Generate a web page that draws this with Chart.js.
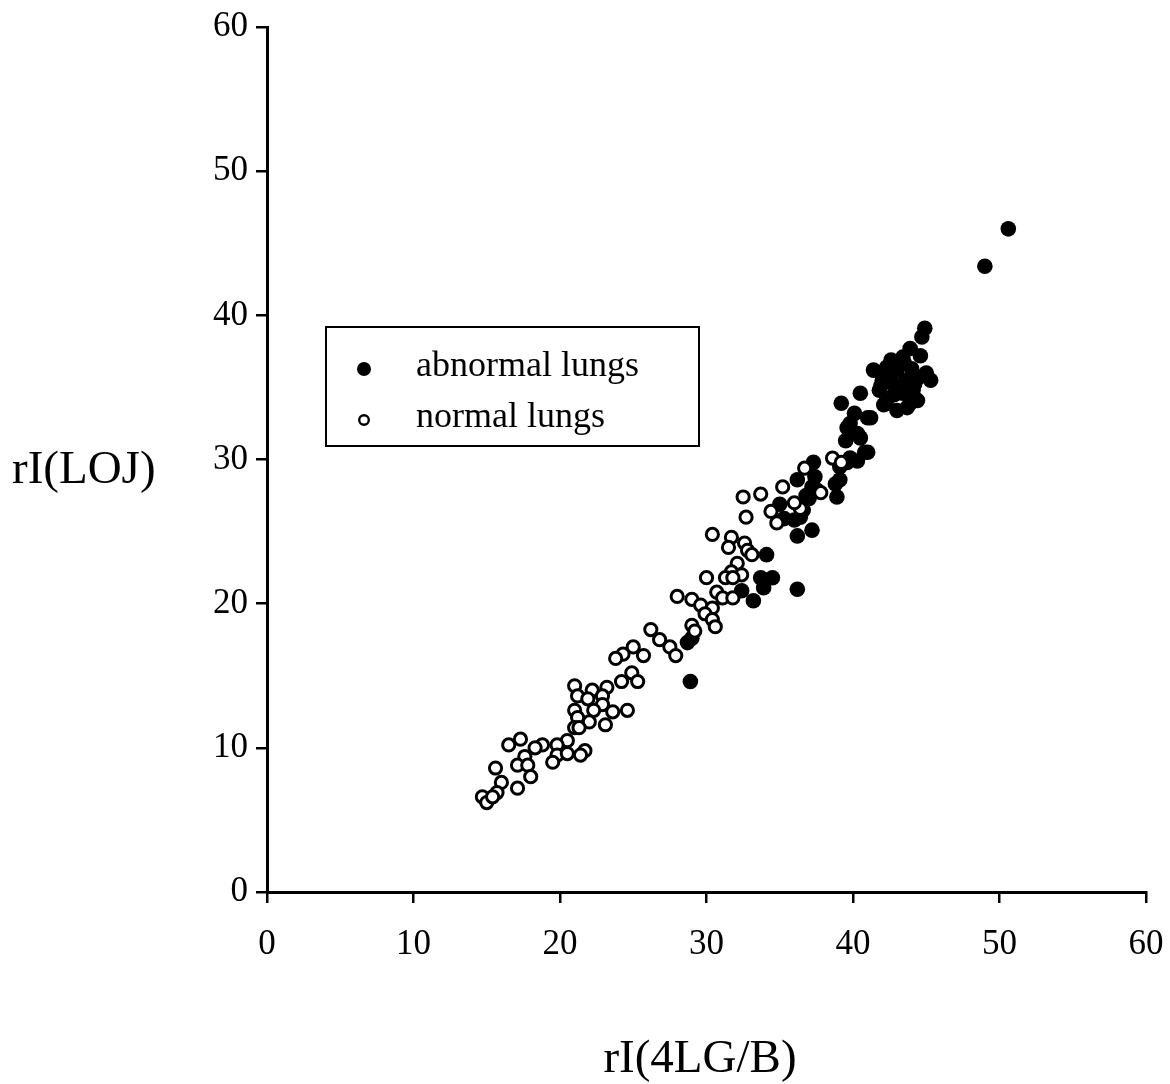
<!DOCTYPE html>
<html>
<head>
<meta charset="utf-8">
<title>rI(LOJ) vs rI(4LG/B)</title>
<script src="https://cdn.jsdelivr.net/npm/chart.js@4.4.1/dist/chart.umd.min.js"></script>
<style>
    html, body { margin: 0; padding: 0; background: #fff; }
    #wrap { position: relative; width: 1170px; height: 1084px; }
</style>
</head>
<body>
<div id="wrap"><canvas id="scatterChart" width="1170" height="1084"></canvas></div>
<script>
// Axis ticks
const xTicks = [0, 10, 20, 30, 40, 50, 60];
const yTicks = [0, 10, 20, 30, 40, 50, 60];

// Series labels
const seriesLabels = ['abnormal lungs', 'normal lungs'];

// abnormal lungs: [rI(4LG/B), rI(LOJ)]
const abnormalX = [
    50.6, 49.0,
    44.9, 44.7, 43.9, 44.6, 43.4, 41.4, 42.3, 43.0, 45.0, 45.3, 42.0, 42.7, 43.6, 44.1,
    42.3, 43.0, 43.9, 43.4, 41.8, 44.4, 42.5, 43.2, 42.0, 44.0, 42.8, 43.7, 42.1, 44.5,
    42.6, 43.5, 41.9, 44.2,
    40.5, 39.2, 41.0, 40.1, 39.8, 40.3, 39.6, 39.5, 40.5, 41.2, 41.0, 40.8, 39.8, 40.3,
    39.6, 39.1, 39.1, 38.9, 38.8, 37.4, 37.5, 37.3, 36.2, 37.2, 37.0, 36.4, 36.6, 36.2,
    37.2, 36.8, 35.0, 35.3, 36.0,
    34.1, 33.7, 34.5, 33.9, 36.2, 33.2, 32.4, 28.7, 29.0, 28.9
];
const abnormalY = [
    46.0, 43.4,
    39.1, 38.5, 37.7, 37.2, 37.1, 36.2, 36.4, 36.2, 36.0, 35.5, 35.5, 35.3, 35.5, 34.8,
    34.1, 33.4, 33.9, 34.6, 34.8, 34.1, 35.8, 35.0, 36.0, 36.3, 34.5, 33.6, 33.8, 35.7,
    36.9, 36.7, 35.1, 35.2,
    34.6, 33.9, 32.9, 33.2, 32.5, 31.8, 32.2, 31.3, 31.5, 32.9, 30.5, 30.5, 30.1, 29.9,
    29.8, 29.5, 28.6, 27.4, 28.3, 28.8, 27.9, 29.8, 28.6, 28.1, 27.3, 26.0, 26.5, 24.7,
    25.1, 27.5, 26.9, 25.9, 25.8,
    23.4, 21.8, 21.8, 21.1, 21.0, 20.2, 20.9, 17.3, 17.6, 14.6
];

// normal lungs: [rI(4LG/B), rI(LOJ)]
const normalX = [
    25.0, 24.3, 23.8, 25.7, 24.9, 25.3, 24.2, 23.2, 21.0, 22.2, 21.2, 21.9, 22.9, 22.9,
    23.6, 24.6, 21.0, 22.3, 23.1, 22.0, 21.2, 21.0, 21.3, 20.5, 19.8, 18.8, 18.3, 17.3,
    16.5, 17.6, 17.1, 17.8, 18.0, 19.8, 20.5, 19.5, 21.7, 21.4, 15.6, 16.0, 15.7, 17.1,
    14.7, 15.0, 15.4,
    32.7, 30.4, 31.7, 31.5, 32.6, 32.8, 33.1, 32.1, 31.7, 32.4, 31.3, 30.0, 31.8, 30.7,
    31.1, 31.8, 28.0, 29.0, 29.6, 30.4, 29.9, 30.4, 30.6, 29.0, 29.2, 26.2, 26.8, 27.5,
    27.9,
    32.5, 33.7, 35.2, 34.8, 36.4, 36.0, 36.7, 37.8, 38.6, 39.2, 34.4
];
const normalY = [
    17.0, 16.5, 16.2, 16.4, 15.2, 14.6, 14.6, 14.2, 14.3, 14.0, 13.6, 13.4, 13.6, 13.0,
    12.5, 12.6, 12.6, 12.6, 11.6, 11.8, 12.1, 11.4, 11.4, 10.5, 10.2, 10.2, 10.0, 10.6,
    10.2, 9.4, 8.8, 8.8, 8.0, 9.5, 9.6, 9.0, 9.8, 9.5, 8.6, 7.6, 6.9, 7.2,
    6.6, 6.2, 6.6,
    26.0, 24.8, 24.6, 23.9, 24.2, 23.7, 23.4, 22.8, 22.2, 22.0, 21.8, 21.8, 21.8, 20.8,
    20.4, 20.4, 20.5, 20.3, 19.9, 19.7, 19.3, 18.9, 18.4, 18.5, 18.1, 18.2, 17.5, 17.0,
    16.4,
    27.4, 27.6, 28.1, 25.6, 26.6, 27.0, 29.4, 27.7, 30.1, 29.8, 26.4
];

const SERIF = '"Times New Roman", "Liberation Serif", serif';

function toPoints(xs, ys) {
    return xs.map((x, i) => ({ x: x, y: ys[i] }));
}

// Legend box and free-standing axis titles, drawn on the canvas
const annotationsPlugin = {
    id: 'annotations',
    afterDraw(chart) {
        const ctx = chart.ctx;
        ctx.save();

        // legend frame
        ctx.strokeStyle = '#000';
        ctx.lineWidth = 2;
        ctx.strokeRect(326, 327, 373, 119);

        // legend markers
        ctx.fillStyle = '#000';
        ctx.beginPath();
        ctx.arc(364, 369, 7, 0, Math.PI * 2);
        ctx.fill();

        ctx.beginPath();
        ctx.arc(364, 420, 4.8, 0, Math.PI * 2);
        ctx.fillStyle = '#fff';
        ctx.fill();
        ctx.lineWidth = 2.4;
        ctx.stroke();

        // legend text
        ctx.fillStyle = '#000';
        ctx.font = '36px ' + SERIF;
        ctx.textAlign = 'left';
        ctx.textBaseline = 'alphabetic';
        ctx.fillText(seriesLabels[0], 416, 376);
        ctx.fillText(seriesLabels[1], 416, 427);

        // axis titles
        ctx.font = '47px ' + SERIF;
        ctx.fillText('rI(LOJ)', 12, 483);
        ctx.textAlign = 'center';
        ctx.fillText('rI(4LG/B)', 700, 1072);

        ctx.restore();
    }
};

const ctx = document.getElementById('scatterChart').getContext('2d');

new Chart(ctx, {
    type: 'scatter',
    data: {
        datasets: [
            {
                label: seriesLabels[1],
                data: toPoints(normalX, normalY),
                pointStyle: 'circle',
                pointRadius: 6.1,
                pointBackgroundColor: '#fff',
                pointBorderColor: '#000',
                pointBorderWidth: 3,
                order: 0
            },
            {
                label: seriesLabels[0],
                data: toPoints(abnormalX, abnormalY),
                pointStyle: 'circle',
                pointRadius: 7.8,
                pointBackgroundColor: '#000',
                pointBorderColor: '#000',
                pointBorderWidth: 0,
                order: 1
            }
        ]
    },
    options: {
        responsive: false,
        animation: false,
        layout: {
            padding: { top: 27, right: 24, left: 0, bottom: 0 }
        },
        plugins: {
            legend: { display: false },
            tooltip: { enabled: false }
        },
        scales: {
            x: {
                type: 'linear',
                min: 0,
                max: 60,
                afterBuildTicks: scale => {
                    scale.ticks = xTicks.map(v => ({ value: v }));
                },
                afterFit: scale => {
                    scale.height = 192;
                    scale.paddingLeft = 0;
                    scale.paddingRight = 0;
                },
                border: { display: true, color: '#000', width: 3 },
                grid: {
                    drawOnChartArea: false,
                    drawTicks: true,
                    tickLength: 11,
                    color: '#000',
                    lineWidth: 2.5
                },
                ticks: {
                    color: '#000',
                    font: { family: SERIF, size: 35 },
                    padding: 21,
                    maxRotation: 0
                }
            },
            y: {
                type: 'linear',
                min: 0,
                max: 60,
                afterBuildTicks: scale => {
                    scale.ticks = yTicks.map(v => ({ value: v }));
                },
                afterFit: scale => {
                    scale.width = 267;
                    scale.paddingTop = 0;
                    scale.paddingBottom = 0;
                },
                border: { display: true, color: '#000', width: 3 },
                grid: {
                    drawOnChartArea: false,
                    drawTicks: true,
                    tickLength: 11,
                    color: '#000',
                    lineWidth: 2.5
                },
                ticks: {
                    color: '#000',
                    font: { family: SERIF, size: 35 },
                    padding: 8
                }
            }
        }
    },
    plugins: [annotationsPlugin]
});
</script>
</body>
</html>
